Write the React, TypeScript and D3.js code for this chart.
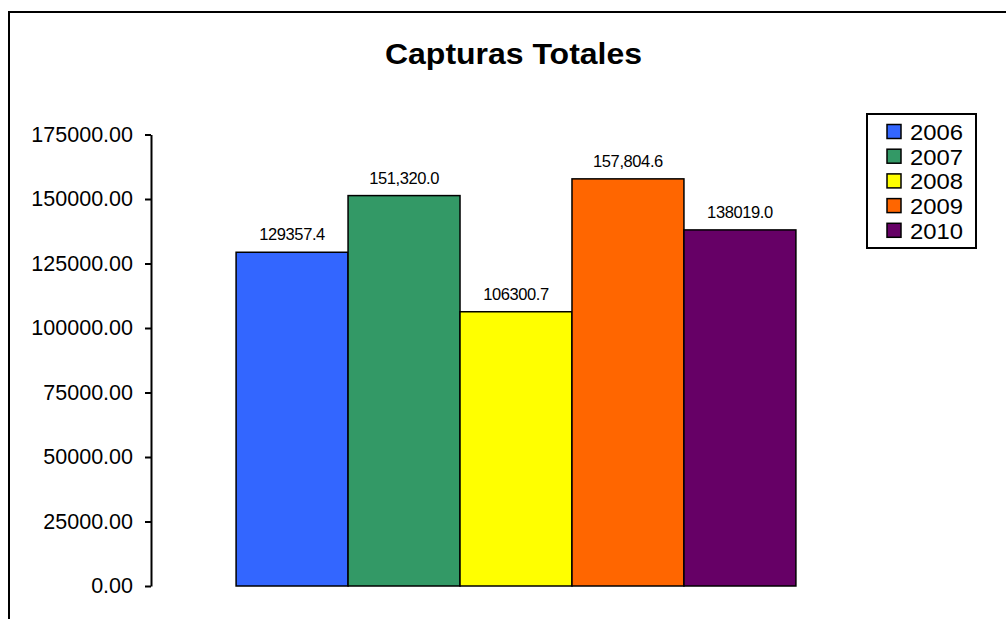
import React, { useEffect, useRef } from 'react';
import * as d3 from 'd3';

const W = 1006;
const H = 619;

// one category, five yearly series
const years = ['2006', '2007', '2008', '2009', '2010'];
const totals = [129357.4, 151320.0, 106300.7, 157804.6, 138019.0];
const valueLabels = ['129357.4', '151,320.0', '106300.7', '157,804.6', '138019.0'];
const colors = ['#3366FF', '#339966', '#FFFF00', '#FF6600', '#660066'];
const yTicks = [0, 25000, 50000, 75000, 100000, 125000, 150000, 175000];

const FONT = '"Liberation Sans", Arial, sans-serif';

const plot = { left: 151, right: 881, top: 134.5, bottom: 586 };

export default function App() {
  const axisRef = useRef<SVGGElement>(null);

  const y = d3.scaleLinear().domain([0, 175000]).range([plot.bottom, plot.top]);
  const group = d3
    .scaleBand<string>()
    .domain(['Capturas'])
    .range([plot.left, plot.right])
    .paddingInner(0)
    .paddingOuter(0.152);
  const g0 = group('Capturas') ?? 0;
  const x = d3
    .scaleBand<string>()
    .domain(years)
    .range([g0, g0 + group.bandwidth()]);

  useEffect(() => {
    if (!axisRef.current) return;
    const axis = d3
      .axisLeft(y)
      .tickValues(yTicks)
      .tickFormat((d) => d3.format('.2f')(d as number))
      .tickSizeInner(6)
      .tickSizeOuter(0)
      .tickPadding(12);
    const g = d3.select(axisRef.current);
    g.selectAll('*').remove();
    g.call(axis);
    g.select('.domain').attr('stroke', '#000').attr('stroke-width', 2);
    g.selectAll('.tick line').attr('stroke', '#000').attr('stroke-width', 2);
    g.selectAll('.tick text')
      .attr('fill', '#000')
      .attr('font-family', FONT)
      .attr('font-size', 21.5);
  }, []);

  const legend = { x: 867, y: 114, w: 109, h: 134, row: 24.7 };

  return (
    <svg
      width={W}
      height={H}
      style={{ position: 'absolute', left: 0, top: 0, background: '#fff' }}
      fontFamily={FONT}
    >
      <rect x={0} y={0} width={W} height={H} fill="#fff" />
      <rect x={9} y={12} width={W + 100} height={H + 100} fill="none" stroke="#000" strokeWidth={2} />

      <text
        x={513.5}
        y={64}
        textAnchor="middle"
        fontSize={29}
        fontWeight="bold"
        textLength={257}
        lengthAdjust="spacingAndGlyphs"
      >
        Capturas Totales
      </text>

      <g ref={axisRef} transform={`translate(${plot.left},0)`} />

      {years.map((yr, i) => (
        <g key={yr}>
          <rect
            x={x(yr)}
            y={y(totals[i])}
            width={x.bandwidth()}
            height={y(0) - y(totals[i])}
            fill={colors[i]}
            stroke="#000"
            strokeWidth={1.5}
          />
          <text
            x={(x(yr) ?? 0) + x.bandwidth() / 2}
            y={y(totals[i]) - 12}
            textAnchor="middle"
            fontSize={16.5}
            letterSpacing={-0.4}
          >
            {valueLabels[i]}
          </text>
        </g>
      ))}

      <g>
        <rect
          x={legend.x}
          y={legend.y}
          width={legend.w}
          height={legend.h}
          fill="#fff"
          stroke="#000"
          strokeWidth={2}
        />
        {years.map((yr, i) => {
          const cy = legend.y + 17.5 + i * legend.row;
          return (
            <g key={yr}>
              <rect x={887} y={cy - 7} width={14} height={14} fill={colors[i]} stroke="#000" strokeWidth={1.5} />
              <text x={910} y={cy + 8.5} fontSize={22} textLength={53} lengthAdjust="spacingAndGlyphs">
                {yr}
              </text>
            </g>
          );
        })}
      </g>
    </svg>
  );
}
